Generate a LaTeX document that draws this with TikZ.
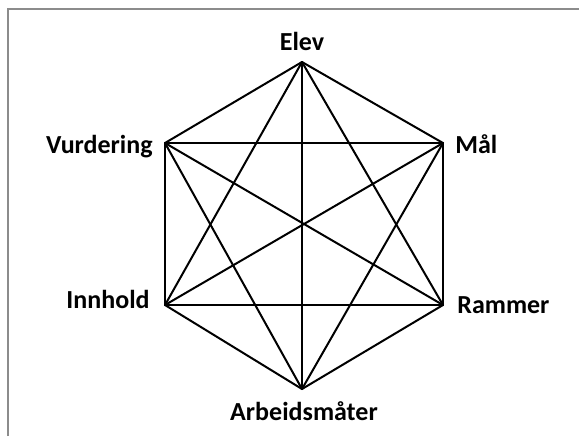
\documentclass[tikz,border=0pt]{standalone}
\usepackage{fontspec}
\setmainfont{Carlito}
\usetikzlibrary{positioning}

\begin{document}
\begin{tikzpicture}[
    x=0.5pt, y=-0.5pt,
    edge/.style={line width=1pt, line cap=round, line join=round},
    lbl/.style={font=\fontsize{13}{15}\selectfont\bfseries, inner sep=0pt},
    frame/.style={draw=black!45, line width=1pt}
]
\useasboundingbox (0,0) rectangle (579,436);
\draw[frame] (8,436) -- (8,9) -- (579,9);

% corners of the hexagon
\coordinate (elev) at (302,62);
\coordinate (maal) at (443,143);
\coordinate (rammer) at (443,305);
\coordinate (arb) at (302,389);
\coordinate (innhold) at (165,305);
\coordinate (vurd) at (165,143);

% every corner joined to every other
\foreach \a/\b in {elev/maal, elev/rammer, elev/arb, elev/innhold, elev/vurd,
                   maal/rammer, maal/arb, maal/innhold, maal/vurd,
                   rammer/arb, rammer/innhold, rammer/vurd,
                   arb/innhold, arb/vurd,
                   innhold/vurd}
    \draw[edge] (\a) -- (\b);

\node[lbl, anchor=base] (t-elev) at (302,50) {Elev};
\node[lbl, anchor=base west] (t-maal) at (455,153) {Mål};
\node[lbl, anchor=base west] (t-rammer) at (457,313) {Rammer};
\node[lbl, anchor=base] (t-arb) at (304,420) {Arbeidsmåter};
\node[lbl, anchor=base east] (t-innhold) at (150,308) {Innhold};
\node[lbl, anchor=base east] (t-vurd) at (153,153) {Vurdering};
\end{tikzpicture}
\end{document}
